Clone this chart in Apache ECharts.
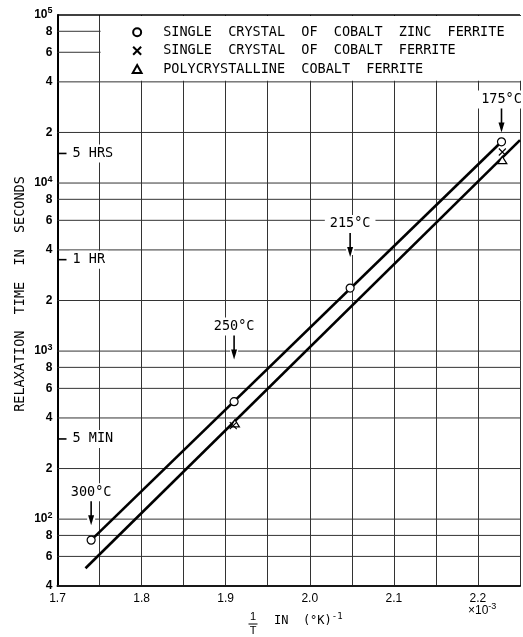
<!DOCTYPE html>
<html><head><meta charset="utf-8">
<script src="https://cdn.jsdelivr.net/npm/echarts@6/dist/echarts.min.js"></script>
<style>html,body{margin:0;padding:0;background:#fff}#c{width:523px;height:637px}</style>
</head><body><div id="c"></div><script>
// ---- data ----
const xMin = 1.7, xMax = 2.25, xStep = 0.05;
const yMin = 40, yMax = 100000;
const xTickValues = [1.7, 1.8, 1.9, 2.0, 2.1, 2.2];
const xTickLabels = ['1.7', '1.8', '1.9', '2.0', '2.1', '2.2'];
const yGridValues = [40,60,80,100,200,400,600,800,1000,2000,4000,6000,8000,10000,20000,40000,60000,80000,100000];
const yTickLabels = ['4','6','8','10^2','2','4','6','8','10^3','2','4','6','8','10^4','2','4','6','8','10^5'];
const seriesNames = ['SINGLE CRYSTAL OF COBALT ZINC FERRITE', 'SINGLE CRYSTAL OF COBALT FERRITE', 'POLYCRYSTALLINE COBALT FERRITE'];
const cobaltZincX = [1.740, 1.910, 2.048, 2.228];
const cobaltZincY = [75, 500, 2370, 17600];
const cobaltX = [1.909, 2.229];
const cobaltY = [360, 15300];
const polyX = [1.911, 2.229];
const polyY = [372, 13700];
const upperLineX = [1.740, 2.228];
const upperLineY = [75, 17600];
const lowerLineX = [1.7333, 2.25];
const lowerLineY = [51, 18000];
const timeMarkLabels = ['5 HRS', '1 HR', '5 MIN'];
const timeMarkValues = [15000, 3500, 300];
const tempLabels = ['300°C', '250°C', '215°C', '175°C'];
const tempX = [1.740, 1.910, 2.048, 2.228];
const tempArrowTipY = [92, 890, 3630, 20000];
const legendBoxX = [1.75, 2.25];
const legendBoxY = [40000, 100000];

const zip = (a, b) => a.map((v, i) => [v, b[i]]);
const MONO = '"DejaVu Sans Mono", monospace';
const SANS = '"Liberation Sans", Arial, sans-serif';
const TRIANGLE = 'path://M5,0L10,9L0,9Z';
const CROSS = 'path://M0,0L10,10M10,0L0,10';

function yLabelText(s) {
  if (s.indexOf('^') >= 0) { const p = s.split('^'); return '{b|' + p[0] + '}{s|' + p[1] + '}'; }
  return '{b|' + s + '}';
}

const chart = echarts.init(document.getElementById('c'), null, {renderer: 'canvas', width: 523, height: 637});

const option = {
  animation: false,
  backgroundColor: '#fff',
  grid: {left: 57.5, top: 15, width: 470.25, height: 571},
  xAxis: {
    type: 'value', min: xMin, max: xMax, interval: xStep,
    axisLine: {show: true, lineStyle: {color: '#000', width: 2}},
    axisTick: {show: false},
    splitLine: {show: true, lineStyle: {color: '#333', width: 1}},
    axisLabel: {
      margin: 7, color: '#000', fontFamily: SANS, fontSize: 12,
      formatter: v => { const i = xTickValues.findIndex(t => Math.abs(t - v) < 1e-6); return i >= 0 ? xTickLabels[i] : ''; }
    }
  },
  yAxis: {
    type: 'log', logBase: 10, min: yMin, max: yMax,
    axisLine: {show: true, lineStyle: {color: '#000', width: 2}},
    axisTick: {show: false}, splitLine: {show: false}, axisLabel: {show: false}
  },
  legend: {
    orient: 'vertical', left: 131.7, top: 25.3, padding: 0,
    itemWidth: 42, itemHeight: 8, itemGap: 4.4, selectedMode: false,
    data: seriesNames,
    formatter: n => n.replace(/ /g, '  '),
    textStyle: {fontFamily: MONO, fontSize: 13.5, color: '#000', lineHeight: 14}
  },
  graphic: [
    {type: 'text', x: 20, y: 294, rotation: Math.PI / 2,
     style: {text: 'RELAXATION  TIME  IN  SECONDS', font: '13.5px ' + MONO, fill: '#000', align: 'center', verticalAlign: 'middle'}},
    {type: 'group', children: [
      {type: 'text', x: 253, y: 617, style: {text: '1', font: '11px ' + SANS, fill: '#000', align: 'center', verticalAlign: 'middle'}},
      {type: 'line', shape: {x1: 248.5, y1: 624, x2: 257.5, y2: 624}, style: {stroke: '#000', lineWidth: 1}},
      {type: 'text', x: 253, y: 631, style: {text: 'T', font: '11px ' + SANS, fill: '#000', align: 'center', verticalAlign: 'middle'}},
      {type: 'text', x: 274, y: 621, style: {text: '{a|IN  (°K)}{s|-1}', fill: '#000', align: 'left', verticalAlign: 'middle',
        rich: {a: {fontFamily: MONO, fontSize: 12, fill: '#000'}, s: {fontFamily: MONO, fontSize: 9, fill: '#000', padding: [0, 0, 8, 0]}}}},
      {type: 'text', x: 468, y: 611, style: {text: '{a|×10}{s|-3}', fill: '#000', align: 'left', verticalAlign: 'middle',
        rich: {a: {fontFamily: SANS, fontSize: 12, fill: '#000'}, s: {fontFamily: SANS, fontSize: 9, fill: '#000', padding: [0, 0, 8, 0]}}}}
    ]}
  ],
  series: [
    { // horizontal log grid lines and their labels
      type: 'custom', z: 1, silent: true, clip: false,
      data: yGridValues.map((v, i) => [xMin, v, i]),
      renderItem: (params, api) => {
        const v = api.value(1), i = api.value(2);
        const p0 = api.coord([xMin, v]), p1 = api.coord([xMax, v]);
        const top = v === yMax;
        return {type: 'group', children: [
          {type: 'line', shape: {x1: p0[0], y1: p0[1], x2: p1[0], y2: p1[1]},
           style: {stroke: top ? '#000' : '#333', lineWidth: top ? 1.6 : 1}},
          {type: 'text', x: p0[0] - 5, y: p0[1], style: {
            text: yLabelText(yTickLabels[i]), align: 'right', verticalAlign: 'middle',
            rich: {b: {fontFamily: SANS, fontSize: 12, fontWeight: 'bold', fill: '#000'},
                   s: {fontFamily: SANS, fontSize: 9, fontWeight: 'bold', fill: '#000', padding: [0, 0, 8, 0]}}}}
        ]};
      }
    },
    { // legend box background
      type: 'custom', z: 3, silent: true, clip: false,
      data: [[legendBoxX[0], legendBoxY[0], legendBoxX[1], legendBoxY[1]]],
      renderItem: (params, api) => {
        const a = api.coord([api.value(0), api.value(3)]);
        const b = api.coord([api.value(2), api.value(1)]);
        return {type: 'rect', shape: {x: a[0] + 1, y: a[1] + 1, width: b[0] - a[0] + 10, height: b[1] - a[1] - 2},
                style: {fill: '#fff'}};
      }
    },
    { // time marks on the left
      type: 'custom', z: 4, silent: true, clip: false,
      data: timeMarkValues.map((v, i) => [xMin, v, i]),
      renderItem: (params, api) => {
        const p = api.coord([xMin, api.value(1)]);
        return {type: 'group', children: [
          {type: 'text', x: p[0] + 12, y: p[1], style: {text: timeMarkLabels[api.value(2)], font: '13.5px ' + MONO, fill: '#000',
            align: 'left', verticalAlign: 'middle', backgroundColor: '#fff', padding: [2, 3, 2, 3]}},
          {type: 'line', z2: 5, shape: {x1: p[0], y1: p[1], x2: p[0] + 9, y2: p[1]}, style: {stroke: '#000', lineWidth: 1.6}}
        ]};
      }
    },
    { // temperature annotations with arrows
      type: 'custom', z: 4, silent: true, clip: false,
      data: tempX.map((x, i) => [x, tempArrowTipY[i], i]),
      renderItem: (params, api) => {
        const p = api.coord([api.value(0), api.value(1)]);
        const x = p[0], y = p[1];
        return {type: 'group', children: [
          {type: 'rect', shape: {x: x - 4, y: y - 28, width: 8, height: 26}, style: {fill: '#fff'}},
          {type: 'text', x: x, y: y - 33, style: {text: tempLabels[api.value(2)], font: '13.5px ' + MONO, fill: '#000', lineHeight: 14,
            align: 'center', verticalAlign: 'middle', backgroundColor: '#fff', padding: [2, 5, 2, 5]}},
          {type: 'line', z2: 5, shape: {x1: x, y1: y - 24, x2: x, y2: y - 7}, style: {stroke: '#000', lineWidth: 1.6}},
          {type: 'polygon', z2: 5, shape: {points: [[x - 3, y - 10], [x + 3, y - 10], [x, y]]}, style: {fill: '#000'}}
        ]};
      }
    },
    {type: 'line', z: 5, silent: true, data: zip(upperLineX, upperLineY), symbol: 'none', lineStyle: {color: '#000', width: 2.6}},
    {type: 'line', z: 5, silent: true, data: zip(lowerLineX, lowerLineY), symbol: 'none', lineStyle: {color: '#000', width: 2.6}},
    {type: 'scatter', name: seriesNames[0], z: 6, data: zip(cobaltZincX, cobaltZincY), symbol: 'circle', symbolSize: 8,
     itemStyle: {color: '#fff', borderColor: '#000', borderWidth: 1.2, opacity: 1}},
    {type: 'scatter', name: seriesNames[1], z: 7, data: zip(cobaltX, cobaltY), symbol: CROSS, symbolSize: 7,
     itemStyle: {color: '#000', borderColor: '#000', borderWidth: 1.1, opacity: 1}},
    {type: 'scatter', name: seriesNames[2], z: 6, data: zip(polyX, polyY), symbol: TRIANGLE, symbolSize: [9, 8], symbolKeepAspect: true,
     itemStyle: {color: '#fff', borderColor: '#000', borderWidth: 1.2, opacity: 1}}
  ]
};
chart.setOption(option);
</script></body></html>
